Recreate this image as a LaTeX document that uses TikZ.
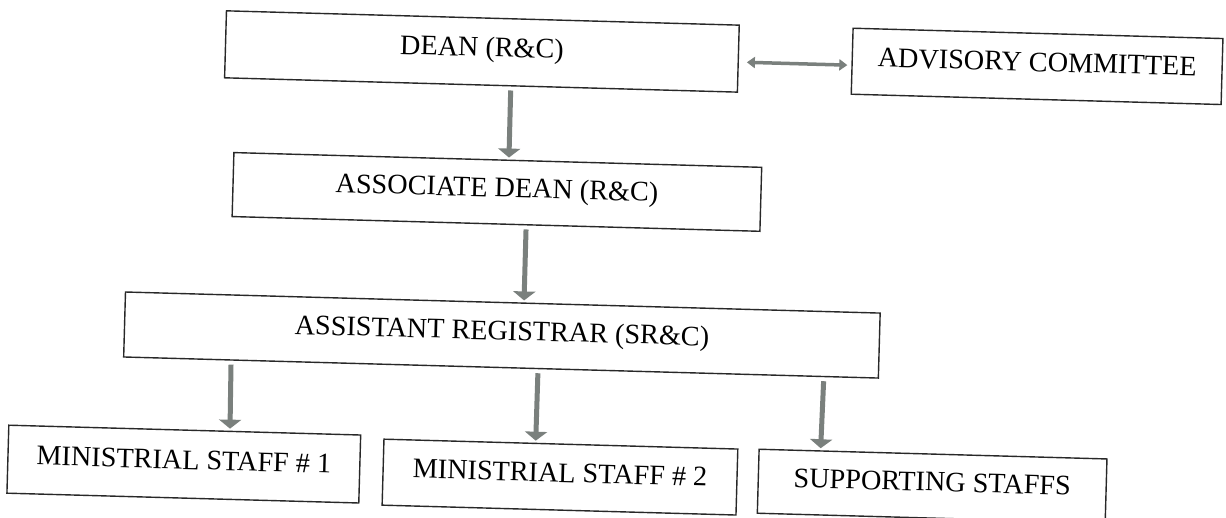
\documentclass[tikz,border=0pt]{standalone}
\usepackage{fontspec}
\setmainfont{Liberation Serif}
\usetikzlibrary{arrows.meta,calc}
\definecolor{arrowgray}{RGB}{122,128,125}
\definecolor{boxline}{RGB}{40,40,40}
\tikzset{
  box/.style={draw=boxline, line width=1.4pt, rectangle, inner sep=0pt, fill=white,
    text height=20pt, text depth=10pt, font=\fontsize{28.2}{30}\selectfont},
  downarr/.style={draw=arrowgray, line width=5pt, shorten <=4pt, shorten >=2pt,
    -{Triangle[length=9pt,width=22pt]}},
  biarr/.style={draw=arrowgray, line width=3.5pt, shorten <=8pt, shorten >=4pt,
    {Triangle[length=8pt,width=11pt]}-{Triangle[length=8pt,width=11pt]}}
}
\begin{document}
\begin{tikzpicture}[x=1pt,y=-1pt]
\useasboundingbox[fill=white] (0,0) rectangle (1226,517);
\begin{scope}[rotate around={-1.6:(613,258)}, transform shape]
\node[box, minimum width=513pt, minimum height=67pt] (dean) at (476.2,55.2) {DEAN (R\&C)};
\node[box, minimum width=370pt, minimum height=66pt] (adv) at (1031.6,54.6) {ADVISORY COMMITTEE};
\node[box, minimum width=528pt, minimum height=64pt] (assoc) at (495.1,195.2) {ASSOCIATE DEAN (R\&C)};
\node[box, minimum width=755pt, minimum height=65pt] (asst) at (504.1,338.1) {ASSISTANT REGISTRAR (SR\&C)};
\node[box, minimum width=352pt, minimum height=68pt] (min1) at (189.7,476) {MINISTRIAL STAFF \# 1};
\node[box, minimum width=354pt, minimum height=66pt] (min2) at (566.1,478.5) {MINISTRIAL STAFF \# 2};
\node[box, minimum width=348pt, minimum height=64pt] (supp) at (938.4,477.1) {SUPPORTING STAFFS};

\draw[biarr] ($(dean.north east)!0.55!(dean.south east)$) -- ($(adv.north west)!0.56!(adv.south west)$);
\draw[downarr] ($(dean.south west)!0.558!(dean.south east)$) -- ($(assoc.north west)!0.521!(assoc.north east)$);
\draw[downarr] ($(assoc.south west)!0.557!(assoc.south east)$) -- ($(asst.north west)!0.528!(asst.north east)$);
\draw[downarr] ($(asst.south west)!0.143!(asst.south east)$) -- ($(min1.north west)!0.628!(min1.north east)$);
\draw[downarr] ($(asst.south west)!0.549!(asst.south east)$) -- ($(min2.north west)!0.429!(min2.north east)$);
\draw[downarr] ($(asst.south west)!0.927!(asst.south east)$) -- ($(supp.north west)!0.178!(supp.north east)$);
\end{scope}
\end{tikzpicture}
\end{document}
